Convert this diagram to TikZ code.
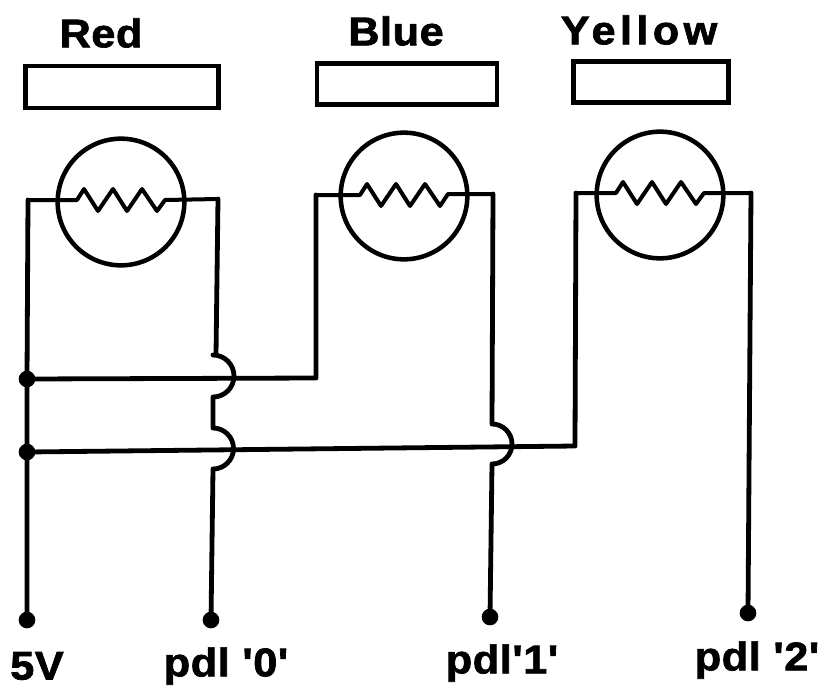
\documentclass[tikz,border=0pt]{standalone}
\usepackage{fontspec}
\setmainfont{Liberation Sans}
\newfontfamily\heavyfont[FakeBold=1.8,FakeStretch=1.08,LetterSpace=1.5]{Liberation Sans Bold}
\newfontfamily\heavywide[FakeBold=1.8,FakeStretch=1.08,LetterSpace=11]{Liberation Sans Bold}
\tikzset{
  wire/.style={line width=3.6pt,black,line cap=round,line join=round},
  thinwire/.style={line width=3pt,black,line cap=round,line join=round},
  box/.style={draw=black,line width=3.4pt,fill=white,inner sep=0pt},
  lamp/.style={circle,draw=black,line width=3.4pt,minimum size=95pt,inner sep=0pt},
  dot/.style={circle,fill=black,draw=none,inner sep=0pt,minimum size=12.5pt},
  lab/.style={font=\heavyfont\fontsize{30}{33}\selectfont,text=black,inner sep=0pt,anchor=center},
  labw/.style={font=\heavywide\fontsize{30}{33}\selectfont,text=black,inner sep=0pt,anchor=center}
}
\begin{document}
\begin{tikzpicture}[x=0.75pt,y=-0.75pt]
\useasboundingbox (0,0) rectangle (825,686);
\node[lab] (tr) at (101,33) {Red};
\node[lab] (tb) at (396,31) {Blue};
\node[labw] (ty) at (639,30) {Yellow};
\node[box,minimum width=144.75pt,minimum height=31.5pt] (br) at (122,87) {};
\node[box,minimum width=135pt,minimum height=30.75pt] (bb) at (407,84) {};
\node[box,minimum width=116.25pt,minimum height=30.75pt] (by) at (651,82) {};
% lamps
\node[lamp] (lr) at (121,202) {};
\node[lamp] (lb) at (404,196) {};
\node[lamp] (ly) at (660,195) {};
% terminals
\node[dot] (d5) at (27,620) {};
\node[dot] (d0) at (211,620) {};
\node[dot] (d1) at (490,617) {};
\node[dot] (d2) at (748,613) {};
\node[dot] (j1) at (27,379) {};
\node[dot] (j2) at (27,452) {};
\coordinate (c1) at (28,200);
\coordinate (r1) at (218,199);
\coordinate (c2) at (316,195);
\coordinate (r2) at (493,194);
\coordinate (c3) at (576,193);
\coordinate (r3) at (751,193);
% filaments
\draw[thinwire] (c1) -- (77,200) -- (84,189) -- (98,211) -- (113,189) -- (127,211) -- (142,189) -- (157,211) -- (165,200) -- (r1);
\draw[thinwire] (c2) -- (360,195) -- (367,184) -- (381,206) -- (396,184) -- (410,206) -- (425,184) -- (440,206) -- (448,194) -- (r2);
\draw[thinwire] (c3) -- (616,193) -- (623,182) -- (637,204) -- (652,182) -- (666,204) -- (681,182) -- (696,204) -- (704,193) -- (r3);
% wires
\draw[wire] (c1) -- (j1) -- (j2) -- (d5);
\draw[wire] (r1) -- (216,355) -- (213,355) arc[start angle=-90,end angle=90,radius=21] -- (213,428) arc[start angle=-90,end angle=90,radius=20.5] -- (d0);
\draw[wire] (j1) -- (316,378) -- (c2);
\draw[wire] (j2) -- (575,446) -- (c3);
\draw[wire] (r2) -- (492,424) arc[start angle=-90,end angle=90,radius=20] -- (d1);
\draw[wire] (r3) -- (d2);
\node[lab] (t5) at (37,666) {5V};
\node[lab] (t0) at (226,666) {pdl '0'};
\node[lab] (t1) at (502,663) {pdl'1'};
\node[lab] (t2) at (757,660) {pdl '2'};
\end{tikzpicture}
\end{document}
